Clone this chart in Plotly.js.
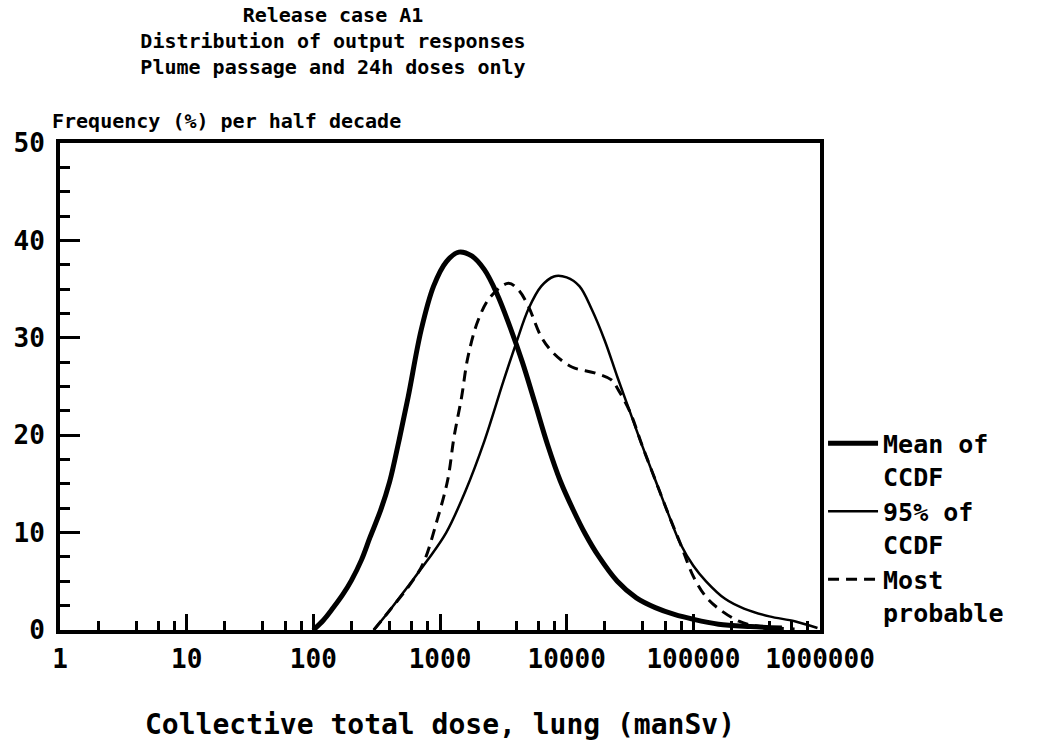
<!DOCTYPE html>
<html>
<head>
<meta charset="utf-8">
<script src="https://cdn.plot.ly/plotly-3.0.1.min.js"></script>
<style>html,body{margin:0;padding:0;background:#fff;}#chart{width:1048px;height:741px;}</style>
</head>
<body>
<div id="chart"></div>
<script>
// ---- Data ----
const meanDose = [100, 120, 140, 170, 200, 240, 280, 340, 400, 470, 560, 710, 890, 1120, 1410, 1780, 2240, 2820, 3550, 4470, 5620, 7080, 8910, 11200, 14100, 17800, 25100, 35500, 50100, 70800, 100000, 158000, 282000, 500000];
const meanFreq = [0, 1.0, 2.1, 3.6, 5.1, 7.2, 9.5, 12.3, 15.2, 19.2, 23.9, 30.8, 35.3, 37.8, 38.8, 38.4, 37.0, 34.5, 31.2, 27.5, 23.3, 19.0, 15.3, 12.4, 9.8, 7.6, 5.0, 3.3, 2.3, 1.6, 1.1, 0.6, 0.35, 0.2];

const p95Dose = [300, 400, 560, 790, 1120, 1580, 2240, 3160, 3980, 5010, 6310, 7940, 10000, 12600, 15800, 20000, 25100, 31600, 39800, 50100, 63100, 79400, 100000, 126000, 178000, 251000, 398000, 631000, 955000];
const p95Freq = [0, 2.0, 4.5, 7.1, 10.0, 14.2, 19.4, 25.5, 29.4, 33.0, 35.3, 36.3, 36.2, 35.3, 32.9, 29.7, 26.0, 22.4, 18.8, 15.4, 12.0, 8.8, 6.6, 5.0, 3.2, 2.2, 1.4, 0.9, 0.2];

const mpDose = [300, 400, 590, 740, 950, 1150, 1290, 1480, 1660, 2000, 2500, 3470, 4170, 5000, 6300, 7900, 11000, 16600, 22400, 25700, 31600, 39800, 50100, 63100, 79400, 100000, 126000, 158000, 229000, 316000, 630000];
const mpFreq = [0, 2.0, 4.8, 6.9, 11.3, 15.4, 19.8, 23.9, 28.0, 31.8, 34.2, 35.6, 34.9, 33.2, 30.1, 28.4, 27.0, 26.4, 25.7, 24.6, 22.4, 18.8, 15.4, 12.0, 8.8, 5.5, 3.4, 2.2, 0.9, 0.4, 0.1];

const seriesNames = ["Mean of<br>CCDF", "95% of<br>CCDF", "Most<br>probable"];
const xTickVals = [1, 10, 100, 1000, 10000, 100000, 1000000];
const xTickText = ["1", "10", "100", "1000", "10000", "100000", "1000000"];
const yTickVals = [0, 10, 20, 30, 40, 50];

const titleText = "Release case A1<br>Distribution of output responses<br>Plume passage and 24h doses only";
const yLabel = "Frequency (%) per half decade";
const xLabel = "Collective total dose, lung (manSv)";

// minor tick positions (2,4,6,8 within each decade)
const minorVals = [];
xTickVals.slice(0, -1).forEach(d => [2, 4, 6, 8].forEach(m => minorVals.push(d * m)));

const FONT = "DejaVu Sans Mono";

const traces = [
  {x: meanDose, y: meanFreq, name: seriesNames[0], mode: "lines",
   line: {color: "#000", width: 5, shape: "spline", smoothing: 1}},
  {x: p95Dose, y: p95Freq, name: seriesNames[1], mode: "lines",
   line: {color: "#000", width: 2.5, shape: "spline", smoothing: 1}},
  {x: mpDose, y: mpFreq, name: seriesNames[2], mode: "lines",
   line: {color: "#000", width: 3, dash: "11px,7px", shape: "spline", smoothing: 1}}
];

const layout = {
  width: 1048, height: 741,
  paper_bgcolor: "#fff", plot_bgcolor: "#fff",
  margin: {l: 60, r: 228, t: 143, b: 111, pad: 0},
  font: {family: FONT, color: "#000", size: 20, weight: "bold"},
  title: {text: titleText, x: 333 / 1048, xanchor: "center", xref: "container",
          y: 1 - 22 / 741, yanchor: "top", yref: "container",
          font: {family: FONT, size: 20, color: "#000", weight: "bold"}},
  xaxis: {
    type: "log", range: [0, 6], showgrid: false, zeroline: false,
    showline: true, linewidth: 4, linecolor: "#000", mirror: true,
    tickmode: "array", tickvals: xTickVals, ticktext: xTickText,
    ticks: "inside", ticklen: 16, tickwidth: 3, tickcolor: "#000",
    ticklabelstandoff: 3,
    tickfont: {family: FONT, size: 26, color: "#000", weight: "bold"},
    minor: {tickmode: "array", tickvals: minorVals, ticks: "inside", ticklen: 9, tickwidth: 3, tickcolor: "#000", showgrid: false},
    title: {text: xLabel, standoff: 56, font: {family: FONT, size: 28, color: "#000", weight: "bold"}}
  },
  yaxis: {
    range: [0, 50], showgrid: false, zeroline: false,
    showline: true, linewidth: 4, linecolor: "#000", mirror: true,
    tickmode: "array", tickvals: yTickVals,
    ticks: "inside", ticklen: 20, tickwidth: 3, tickcolor: "#000",
    ticklabelstandoff: 6,
    tickfont: {family: FONT, size: 26, color: "#000", weight: "bold"},
    minor: {dtick: 2.5, ticks: "inside", ticklen: 10, tickwidth: 3, tickcolor: "#000", showgrid: false}
  },
  showlegend: true,
  legend: {
    x: 1.004, xanchor: "left", y: 0.43, yanchor: "top",
    bgcolor: "rgba(0,0,0,0)", borderwidth: 0,
    valign: "top", itemwidth: 50, tracegroupgap: 0,
    font: {family: FONT, size: 25, color: "#000", weight: "bold"}
  },
  annotations: [
    {text: yLabel, xref: "paper", yref: "paper", x: -10 / 760, xanchor: "left",
     y: 1, yanchor: "bottom", yshift: 8, showarrow: false,
     font: {family: FONT, size: 20, color: "#000", weight: "bold"}}
  ]
};

Plotly.newPlot("chart", traces, layout, {displayModeBar: false, staticPlot: true});
</script>
</body>
</html>
